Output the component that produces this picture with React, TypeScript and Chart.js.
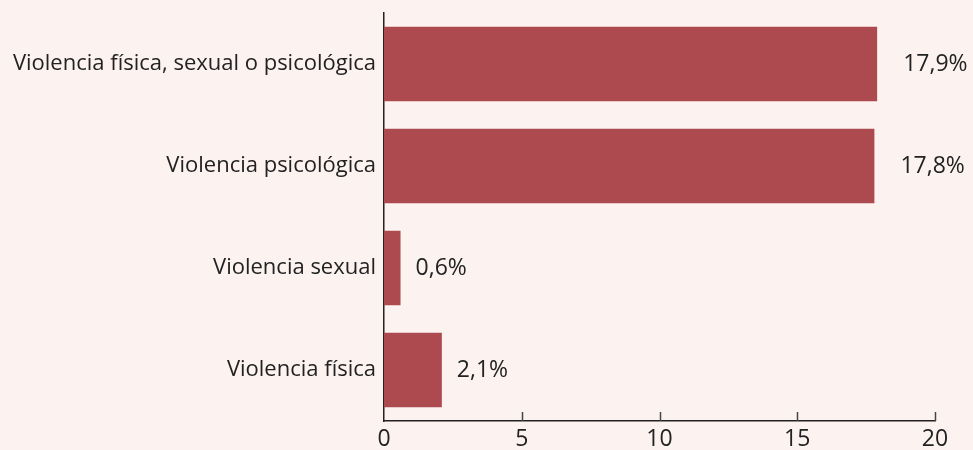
import React, { useEffect, useRef } from "react";
import { Chart, registerables } from "chart.js";

Chart.register(...registerables);

const categories = [
  "Violencia física, sexual o psicológica",
  "Violencia psicológica",
  "Violencia sexual",
  "Violencia física",
];
const values = [17.9, 17.8, 0.6, 2.1];
const valueLabels = ["17,9%", "17,8%", "0,6%", "2,1%"];
const xTicks = [0, 5, 10, 15, 20];

const BG = "#fcf3f1";
const BAR = "#ad4a50";
const TEXT = "#222222";
const FONT = "'Open Sans', sans-serif";

export default function App() {
  const ref = useRef<HTMLCanvasElement | null>(null);

  useEffect(() => {
    document.body.style.margin = "0";
    document.body.style.background = BG;
    const canvas = ref.current;
    if (!canvas) return;

    const innerTicks = {
      id: "innerTicks",
      afterDraw(chart: any) {
        const ctx = chart.ctx;
        const xs = chart.scales.x;
        const area = chart.chartArea;
        ctx.save();
        ctx.strokeStyle = "#444";
        ctx.lineWidth = 1.5;
        xTicks.forEach((t) => {
          if (t === 0) return;
          const px = Math.round(xs.getPixelForValue(t)) + 0.5;
          ctx.beginPath();
          ctx.moveTo(px, area.bottom);
          ctx.lineTo(px, area.bottom - 9);
          ctx.stroke();
        });
        ctx.restore();
      },
    };

    const valueLabelPlugin = {
      id: "valueLabels",
      afterDatasetsDraw(chart: any) {
        const ctx = chart.ctx;
        const meta = chart.getDatasetMeta(0);
        ctx.save();
        ctx.fillStyle = TEXT;
        ctx.font = `23px ${FONT}`;
        ctx.textAlign = "left";
        ctx.textBaseline = "middle";
        meta.data.forEach((bar: any, i: number) => {
          const off = values[i] > 10 ? 26 : 15;
          ctx.fillText(valueLabels[i], bar.x + off, bar.y);
        });
        ctx.restore();
      },
    };

    const chart = new Chart(canvas, {
      type: "bar",
      data: {
        labels: categories,
        datasets: [
          {
            data: values,
            backgroundColor: BAR,
            borderWidth: 0,
            barPercentage: 0.73,
            categoryPercentage: 1,
          },
        ],
      },
      options: {
        indexAxis: "y",
        animation: false,
        responsive: false,
        maintainAspectRatio: false,
        layout: { padding: { top: 13, right: 38, left: 0, bottom: 0 } },
        plugins: {
          legend: { display: false },
          tooltip: { enabled: false },
        },
        scales: {
          x: {
            min: 0,
            max: 20,
            afterBuildTicks: (scale: any) => {
              scale.ticks = xTicks.map((v) => ({ value: v }));
            },
            grid: { display: false, drawTicks: false },
            border: { display: true, color: "#222", width: 1.5 },
            ticks: {
              color: TEXT,
              font: { family: FONT, size: 23 },
              padding: 5,
              maxRotation: 0,
              autoSkip: false,
            },
            afterFit: (scale: any) => {
              scale.height = 29;
              scale.paddingLeft = 0;
              scale.paddingRight = 0;
            },
          },
          y: {
            grid: { display: false, drawTicks: false },
            border: { display: true, color: "#222", width: 1.5 },
            ticks: {
              color: TEXT,
              font: { family: FONT, size: 22 },
              padding: 8,
              autoSkip: false,
            },
            afterFit: (scale: any) => {
              scale.width = 384;
              scale.paddingTop = 0;
              scale.paddingBottom = 0;
            },
          },
        },
      },
      plugins: [innerTicks, valueLabelPlugin],
    });

    return () => chart.destroy();
  }, []);

  return (
    <div style={{ width: 973, height: 450, background: BG }}>
      <canvas ref={ref} width={973} height={450} style={{ display: "block" }} />
    </div>
  );
}
